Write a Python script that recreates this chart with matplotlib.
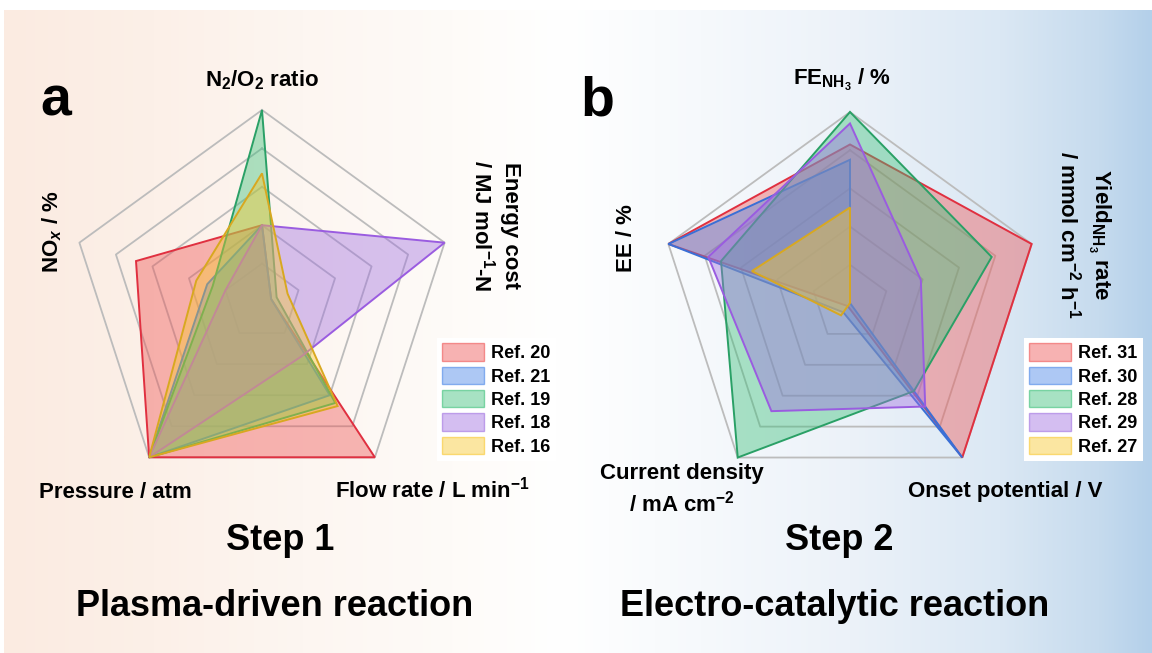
import numpy as np
import matplotlib
matplotlib.use("Agg")
import matplotlib.pyplot as plt
from matplotlib.patches import Patch
from matplotlib.colors import to_rgba

plt.rcParams['font.family'] = ['Liberation Sans', 'DejaVu Sans']
plt.rcParams['font.weight'] = 'bold'
plt.rcParams['mathtext.fontset'] = 'custom'
plt.rcParams['mathtext.rm'] = 'Liberation Sans:bold'
plt.rcParams['mathtext.bf'] = 'Liberation Sans:bold'
plt.rcParams['mathtext.it'] = 'Liberation Sans:bold:italic'
plt.rcParams['mathtext.default'] = 'bf'

# ---------------- data ----------------
axes_a = ["N$_2$/O$_2$ ratio", "Energy cost", "Flow rate", "Pressure", "NO$_x$"]
labels_a = ["Ref. 20", "Ref. 21", "Ref. 19", "Ref. 18", "Ref. 16"]
ref20 = [0.40, 0.05, 1.00, 1.00, 0.69]
ref21 = [0.40, 0.05, 0.60, 1.00, 0.30]
ref19 = [1.00, 0.08, 0.65, 1.00, 0.27]
ref18 = [0.40, 1.00, 0.35, 1.00, 0.20]
ref16 = [0.67, 0.14, 0.67, 1.00, 0.36]

axes_b = ["FE", "Yield rate", "Onset potential", "Current density", "EE"]
labels_b = ["Ref. 31", "Ref. 30", "Ref. 28", "Ref. 29", "Ref. 27"]
ref31 = [0.83, 1.00, 1.00, 0.02, 1.00]
ref30 = [0.75, 0.00, 1.00, 0.06, 1.00]
ref28 = [1.00, 0.78, 0.57, 1.00, 0.71]
ref29 = [0.94, 0.39, 0.67, 0.70, 0.78]
ref27 = [0.50, 0.00, 0.00, 0.08, 0.54]

grid_levels = [0.2, 0.4, 0.6, 0.8, 1.0]

fill_colors = ['#ee5555', '#4a86e8', '#3cc07a', '#a070e0', '#f8c830']
edge_colors = ['#e03040', '#3a6fd6', '#2aa066', '#9a5ce0', '#d8a820']
FILL_ALPHA = 0.42

W, H = 1152, 653
fig = plt.figure(figsize=(W / 100, H / 100), dpi=100)


def fx(x):
    return x / W


def fy(y):
    return 1 - y / H


# ---------------- background gradient ----------------
bg = fig.add_axes([fx(4), 0, 1 - fx(4), fy(10)], zorder=-10)
xs = np.linspace(0, W, 600)
stops_x = [0, 150, 300, 450, 560, 700, 850, 1000, 1100, 1152]
stops_c = np.array([(251, 235, 225), (252, 240, 232), (253, 246, 241),
                    (254, 251, 248), (255, 255, 255), (246, 249, 252),
                    (236, 242, 249), (219, 232, 244), (198, 219, 238),
                    (180, 208, 234)]) / 255.0
grad = np.stack([np.interp(xs, stops_x, stops_c[:, k]) for k in range(3)], axis=-1)
bg.imshow(grad[None, :, :], aspect='auto', extent=[0, 1, 0, 1])
bg.set_axis_off()

n = 5
theta = np.linspace(0, 2 * np.pi, n, endpoint=False)
theta_c = np.append(theta, theta[0])
RMAX = 1.04


def radar(cx, cy, R, series, labels):
    half = R * RMAX
    ax = fig.add_axes([fx(cx - half), fy(cy + half), 2 * half / W, 2 * half / H],
                      projection='polar')
    ax.set_theta_offset(np.pi / 2)
    ax.set_theta_direction(-1)
    ax.set_ylim(0, RMAX)
    ax.grid(False)
    ax.set_xticks([])
    ax.set_yticks([])
    ax.spines['polar'].set_visible(False)
    ax.patch.set_alpha(0)
    for lv in grid_levels:
        ax.plot(theta_c, [lv] * (n + 1), color='#bcbcbc', lw=1.3, zorder=1)
    handles = []
    for vals, fc, ec, lab in zip(series, fill_colors, edge_colors, labels):
        v = np.append(vals, vals[0])
        ax.fill(theta_c, v, facecolor=to_rgba(fc, FILL_ALPHA),
                edgecolor=ec, lw=1.4, zorder=2)
        handles.append(Patch(facecolor=to_rgba(fc, 0.45),
                             edgecolor=to_rgba(fc, 0.6), lw=1.0, label=lab))
    return ax, handles


ax1, h1 = radar(262, 302, 192, [ref20, ref21, ref19, ref18, ref16], labels_a)
ax2, h2 = radar(850, 303, 191, [ref31, ref30, ref28, ref29, ref27], labels_b)

leg_kw = dict(loc='upper left', frameon=True, facecolor='white', edgecolor='none',
              framealpha=1, fancybox=False, prop={'weight': 'bold', 'size': 13},
              handlelength=2.3, handleheight=1.1, handletextpad=0.4,
              labelspacing=0.25, borderpad=0.3, borderaxespad=0)
fig.legend(handles=h1, bbox_to_anchor=(fx(437), fy(338)), **leg_kw)
fig.legend(handles=h2, bbox_to_anchor=(fx(1024), fy(338)), **leg_kw)

# ---------------- texts ----------------
lab = dict(fontsize=16, fontweight='bold', ha='center', va='center')
fig.text(fx(262), fy(80), "N$_2$/O$_2$ ratio", **lab)
fig.text(fx(495), fy(226), "Energy cost\n/ MJ mol$^{-1}$-N", rotation=-90,
         linespacing=1.2, **lab)
fig.text(fx(52), fy(232), "NO$_{\\mathit{x}}$ / %", rotation=90, **lab)
fig.text(fx(115), fy(492), "Pressure / atm", **lab)
fig.text(fx(433), fy(490), "Flow rate / L min$^{-1}$", **lab)

fig.text(fx(842), fy(80), "FE$_{NH_3}$ / %", **lab)
fig.text(fx(1084), fy(235), "Yield$_{NH_3}$ rate\n/ mmol cm$^{-2}$ h$^{-1}$",
         rotation=-90, linespacing=1.2, **lab)
fig.text(fx(626), fy(238), "EE / %", rotation=90, **lab)
fig.text(fx(682), fy(490), "Current density\n/ mA cm$^{-2}$", linespacing=1.3, **lab)
fig.text(fx(1005), fy(492), "Onset potential / V", **lab)

big = dict(fontsize=26, fontweight='bold', ha='center', va='center')
fig.text(fx(280), fy(540), "Step 1", **big)
fig.text(fx(839), fy(540), "Step 2", **big)
fig.text(fx(275), fy(606), "Plasma-driven reaction", **big)
fig.text(fx(835), fy(606), "Electro-catalytic reaction", **big)

fig.text(fx(40), fy(116), "a", fontsize=40, fontweight='bold', ha='left', va='baseline')
fig.text(fx(580), fy(116), "b", fontsize=40, fontweight='bold', ha='left', va='baseline')

fig.savefig("out.png", dpi=100)
